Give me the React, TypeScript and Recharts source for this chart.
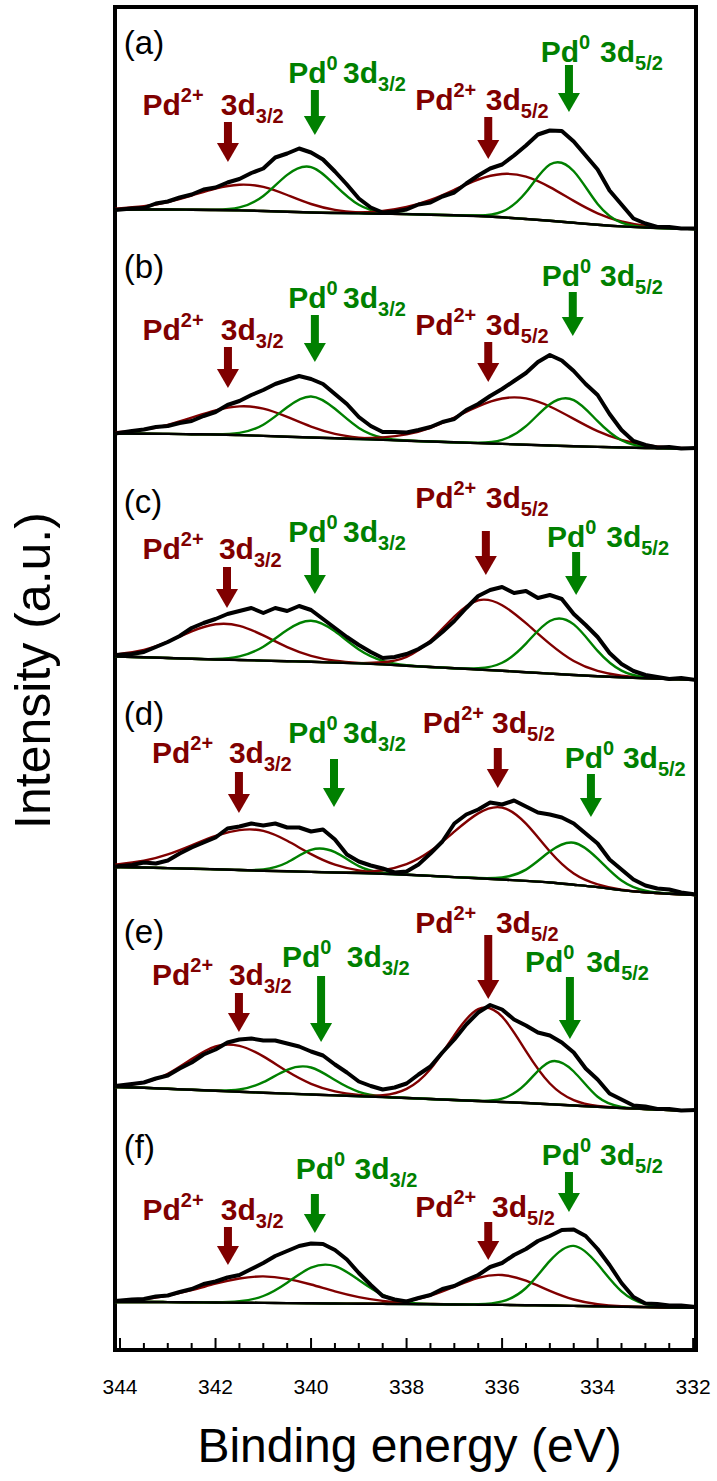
import React from "react";
import {
  LineChart,
  Line,
  XAxis,
  YAxis,
  ReferenceArea,
  ReferenceDot,
  ReferenceLine,
} from "recharts";

const FONT = '"Liberation Sans", Arial, Helvetica, sans-serif';
const BROWN = "#800000";
const GREEN = "#008000";

const WIDTH = 717;
const HEIGHT = 1481;
const PLOT_TOP = 7;
const PLOT_BOTTOM = 1350;
const PLOT_LEFT = 115;
const PLOT_RIGHT = 696;

// pixel row that each stacked spectrum counts up from (1 intensity unit = 1 px)
const PANEL_BASE = [230, 450.5, 671, 891.5, 1112, 1332.5];

const E_MIN = 331.94;
const E_MAX = 344.105;

const MAJOR_TICKS = [344, 342, 340, 338, 336, 334, 332];
const MINOR_TICKS = [
  343.5, 343, 342.5, 341.5, 341, 340.5, 339.5, 339, 338.5, 337.5, 337, 336.5,
  335.5, 335, 334.5, 333.5, 333, 332.5,
];

// binding energy grids (eV): raw spectra on the fine one, fitted curves on the coarse one
const ENERGY_FINE = [
  344.1, 343.75, 343.5, 343.25, 343, 342.75, 342.5, 342.25, 342, 341.75, 341.5,
  341.25, 341, 340.75, 340.5, 340.25, 340, 339.75, 339.5, 339.25, 339, 338.75,
  338.5, 338.25, 338, 337.75, 337.5, 337.25, 337, 336.75, 336.5, 336.25, 336,
  335.75, 335.5, 335.25, 335, 334.75, 334.5, 334.25, 334, 333.75, 333.5, 333.25,
  333, 332.75, 332.5, 332.25, 331.94,
];
const ENERGY_COARSE = [
  344.1, 343.5, 343, 342.5, 342, 341.5, 341, 340.5, 340, 339.5, 339, 338.5, 338,
  337.5, 337, 336.5, 336, 335.5, 335, 334.5, 334, 333.5, 333, 332.5, 331.94,
];

// ---- (a) ----
const A_TOTAL = [
  20, 21.5, 22, 26.5, 28.5, 32.5, 35.5, 40.5, 42.5, 47.5, 51, 57, 61.5, 72.5,
  76.5, 81.5, 77.5, 70.5, 58.5, 45.5, 31.5, 22.5, 17.5, 18.5, 20.5, 25.5, 27.5,
  33.5, 37.5, 46.5, 54.5, 61.5, 65.5, 74.5, 84.5, 95.5, 99.5, 99, 88.5, 74.5,
  60.5, 39.5, 25.5, 11.5, 6.5, 3, 3, 1.5, 1.5,
];
const A_BG = [
  20.5, 20.5, 20.5, 20.3, 20, 19.6, 19, 18.3, 17.5, 17, 16.6, 16.2, 15.9, 15.3,
  14.7, 14, 12.7, 11, 9.2, 7.2, 5.2, 3.6, 2.5, 1.6, 1,
];
// fitted components, height above the background
const A_PD2_32 = [0.9, 3.2, 7.5, 14.2, 21.5, 25.7, 24.1, 16.7, 8.5, 3.1, 0.9, 0.2, 0, 0, 0, 0, 0, 0, 0, 0, 0, 0, 0, 0, 0];
const A_PD0_32 = [0, 0, 0, 0, 0.3, 3, 15, 36.8, 45.4, 27.9, 8.6, 1.3, 0.1, 0, 0, 0, 0, 0, 0, 0, 0, 0, 0, 0, 0];
const A_PD2_52 = [0, 0, 0, 0, 0, 0, 0, 0, 0, 0.2, 0.9, 2.8, 7.1, 14.7, 25.5, 36.5, 43.3, 42.4, 33.7, 21.9, 11.5, 4.9, 1.7, 0.5, 0.1];
const A_PD0_52 = [0, 0, 0, 0, 0, 0, 0, 0, 0, 0, 0, 0, 0, 0, 0, 0.5, 5.6, 26.7, 56.2, 51.6, 20.9, 3.7, 0.3, 0, 0];

// ---- (b) ----
const B_TOTAL = [
  17, 19.5, 21, 23.5, 24.5, 27.5, 29.5, 34.5, 38.5, 45.5, 49.5, 55.5, 60.5, 66.5,
  70.5, 74.5, 71.5, 66.5, 56.5, 46.5, 33.5, 24.5, 18.5, 18.5, 18, 20.5, 23.5,
  28.5, 31.5, 40.5, 46.5, 54.5, 61.5, 69.5, 77.5, 88.5, 95.5, 90, 79.5, 66.5,
  55.5, 36.5, 20.5, 9.5, 5.5, 3, 3.5, 2, 2.5,
];
const B_BG = [
  17, 16.8, 16.6, 16.3, 16, 15.4, 14.6, 13.8, 13, 12.2, 11.4, 10.6, 9.8, 9, 8.2,
  7.4, 6.6, 5.8, 5, 4.3, 3.6, 3, 2.5, 2.1, 1.8,
];
const B_PD2_32 = [1.2, 4.1, 9.1, 16.5, 24.1, 28.7, 27.3, 19.8, 10.9, 4.5, 1.5, 0.3, 0, 0, 0, 0, 0, 0, 0, 0, 0, 0, 0, 0, 0];
const B_PD0_32 = [0, 0, 0, 0, 0.2, 2.2, 11.2, 29.5, 41, 29.5, 11.2, 2.2, 0.2, 0, 0, 0, 0, 0, 0, 0, 0, 0, 0, 0, 0];
const B_PD2_52 = [0, 0, 0, 0, 0, 0, 0, 0, 0, 0.2, 0.8, 2.5, 6.3, 13.7, 24.8, 36.8, 45.4, 46.3, 39, 27.3, 15.7, 7.6, 3, 1, 0.2];
const B_PD0_52 = [0, 0, 0, 0, 0, 0, 0, 0, 0, 0, 0, 0, 0, 0, 0, 0.5, 4.1, 18.5, 41.3, 46.1, 25.7, 7.2, 1, 0.1, 0];

// ---- (c) ----
const C_TOTAL = [
  16, 17, 19, 24, 29, 35, 43, 48, 52, 57, 60, 63, 58, 63, 60, 65, 61, 52, 43, 34,
  26, 19, 13, 14, 17, 22, 29, 39, 50, 63, 75, 81, 84, 78, 80, 73, 76, 72, 57, 46,
  34, 18, 7, 0, -4, -6, -8, -7, -9,
];
const C_BG = [
  14.5, 13.8, 13, 12.2, 11.5, 11, 10.4, 9.8, 9.2, 8.4, 7.6, 6.6, 5.3, 4, 2.8,
  1.5, 0.2, -1.2, -2.6, -4, -5.2, -6.3, -7.2, -8, -8.8,
];
const C_PD2_32 = [1.9, 7.2, 16.3, 27.4, 35.2, 34.2, 25.2, 14.1, 6, 1.9, 0.5, 0.1, 0, 0, 0, 0, 0, 0, 0, 0, 0, 0, 0, 0, 0];
const C_PD0_32 = [0, 0, 0, 0, 0.5, 3.6, 13.9, 31.2, 41, 31.2, 13.9, 3.6, 0.5, 0, 0, 0, 0, 0, 0, 0, 0, 0, 0, 0, 0];
const C_PD2_52 = [0, 0, 0, 0, 0, 0, 0, 0, 0, 0, 0.3, 2.1, 8.9, 26.3, 51.7, 69.2, 65.6, 49, 29.7, 14, 5.3, 1.6, 0.4, 0.1, 0];
const C_PD0_52 = [0, 0, 0, 0, 0, 0, 0, 0, 0, 0, 0, 0, 0, 0, 0, 1.2, 8, 28.6, 52.6, 50.6, 25.3, 6.7, 0.9, 0.1, 0];

// ---- (d) ----
const D_TOTAL = [
  25, 26.5, 29, 28, 31, 38, 44, 49, 54, 63, 65, 68, 66, 68, 64, 64, 60, 62, 52,
  37, 30, 26, 23, 19, 20, 27, 38, 50, 68, 77, 82, 89, 87, 91, 85, 79, 77, 74, 68,
  58, 48, 32, 22, 12, 6, 3, 2, -1, -3,
];
const D_BG = [
  24.5, 24, 23.4, 22.8, 22.2, 21.5, 20.8, 20.2, 19.6, 19, 18.5, 17.8, 16.8, 15.6,
  14.4, 13.3, 12, 10.6, 9, 6.8, 4.4, 1.4, -0.8, -2.2, -3.5,
];
const D_PD2_32 = [2.3, 6.8, 13.7, 23.4, 33.4, 39.9, 39.8, 30.5, 17.8, 7.8, 2.6, 0.7, 0.1, 0, 0, 0, 0, 0, 0, 0, 0, 0, 0, 0, 0];
const D_PD0_32 = [0, 0, 0, 0, 0, 0, 1.3, 8.8, 22, 20.3, 6.9, 0.9, 0.1, 0, 0, 0, 0, 0, 0, 0, 0, 0, 0, 0, 0];
const D_PD2_52 = [0, 0, 0, 0, 0, 0, 0, 0, 0, 0, 0.9, 3.5, 10.5, 24.8, 45.4, 64.8, 71.9, 57.2, 31, 11.2, 2.8, 0.5, 0, 0, 0];
const D_PD0_52 = [0, 0, 0, 0, 0, 0, 0, 0, 0, 0, 0, 0, 0, 0, 0, 0.2, 2.1, 11.3, 31, 42, 28.5, 9.6, 1.6, 0.1, 0];

// ---- (e) ----
const E_TOTAL = [
  26, 28, 29.5, 33.5, 36.5, 43.5, 49.5, 57.5, 62.5, 69.5, 72.5, 73.5, 71.5, 71.5,
  68.5, 65.5, 60.5, 56.5, 47.5, 39.5, 30.5, 26, 22.5, 24.5, 28.5, 37.5, 45.5,
  59.5, 72.5, 87.5, 99.5, 107, 102.5, 92.5, 86.5, 79.5, 76.5, 69.5, 59.5, 43.5,
  32.5, 18.5, 12.5, 6.5, 5.5, 3, 3, 1.5, 2,
];
const E_BG = [
  25, 24.2, 23.2, 22.2, 21.2, 20.2, 19.3, 18.4, 17.5, 16.6, 15.8, 14.9, 14, 13,
  12, 11, 10, 9, 7.8, 6.5, 5.2, 4, 3, 2, 1.2,
];
const E_PD2_32 = [0.9, 5.3, 15, 30.8, 44.5, 45.9, 36.3, 22.3, 10.7, 4, 1.2, 0.3, 0, 0, 0, 0, 0, 0, 0, 0, 0, 0, 0, 0, 0];
const E_PD0_32 = [0, 0, 0, 0, 0.3, 2.3, 10.5, 23.8, 27, 15.3, 4.4, 0.6, 0.1, 0, 0, 0, 0, 0, 0, 0, 0, 0, 0, 0, 0];
const E_PD2_52 = [0, 0, 0, 0, 0, 0, 0, 0, 0, 0, 0.3, 1.8, 9.1, 30, 64.9, 91.9, 85.3, 51.9, 20.7, 5.4, 0.9, 0.1, 0, 0, 0];
const E_PD0_52 = [0, 0, 0, 0, 0, 0, 0, 0, 0, 0, 0, 0, 0, 0, 0, 0.2, 3.3, 19.4, 42.3, 34, 10, 1.1, 0, 0, 0];

// ---- (f) ----
const F_TOTAL = [
  31.5, 33, 33.5, 36, 37, 40.5, 43.5, 48.5, 51, 55, 57.5, 63.5, 69.5, 76.5, 81.5,
  86.5, 89, 88.5, 82.5, 73, 59.5, 47.5, 36.5, 33, 31, 34.5, 37.5, 43.5, 46.5,
  52.5, 57.5, 65.5, 69.5, 77.5, 83.5, 91.5, 96.5, 102.5, 103, 96.5, 83.5, 67.5,
  49.5, 35.5, 29, 28.5, 27, 27, 25.5,
];
const F_BG = [
  30.5, 30.5, 30.4, 30.2, 30, 29.8, 29.6, 29.4, 29.2, 29, 28.8, 28.6, 28.4, 28.2,
  28, 27.8, 27.6, 27.3, 27, 26.6, 26.2, 25.8, 25.4, 25, 24.6,
];
const F_PD2_32 = [1, 3, 6.6, 12.1, 18.8, 24.2, 26.5, 24.2, 18.8, 12.1, 6.6, 3, 1, 0.4, 0.1, 0, 0, 0, 0, 0, 0, 0, 0, 0, 0];
const F_PD0_32 = [0, 0, 0, 0, 0.2, 1.4, 6.9, 20.4, 35.6, 37.4, 23.7, 9, 2, 0.3, 0, 0, 0, 0, 0, 0, 0, 0, 0, 0, 0];
const F_PD2_52 = [0, 0, 0, 0, 0, 0, 0, 0, 0, 0, 0.2, 0.8, 3.1, 8.6, 17.8, 26.9, 29.9, 24.5, 14.6, 6.4, 2.1, 0.5, 0.1, 0, 0];
const F_PD0_52 = [0, 0, 0, 0, 0, 0, 0, 0, 0, 0, 0, 0, 0, 0, 0, 0.4, 3.5, 17.2, 44.6, 60, 42.2, 15.4, 3, 0.3, 0];

type Note = {
  charge: "2+" | "0";
  level: "3/2" | "5/2";
  pdE: number; // where "Pd" starts
  textV: number; // text baseline
  orbE: number; // where "3d" starts
  arrowE: number;
  arrowTop: number;
  arrowTip: number;
};

const note = (
  charge: "2+" | "0",
  level: "3/2" | "5/2",
  pdE: number,
  textV: number,
  orbE: number,
  arrowE: number,
  arrowTop: number,
  arrowTip: number
): Note => ({ charge, level, pdE, textV, orbE, arrowE, arrowTop, arrowTip });

const A_NOTES = [
  note("2+", "3/2", 343.53, 115, 341.89, 341.74, 108, 68),
  note("0", "3/2", 340.48, 147, 339.33, 339.92, 140, 95),
  note("2+", "5/2", 337.82, 120, 336.34, 336.29, 113, 71),
  note("0", "5/2", 335.19, 168, 333.95, 334.6, 165, 118),
];
const B_NOTES = [
  note("2+", "3/2", 343.53, 110.5, 341.89, 341.74, 103.5, 62.5),
  note("0", "3/2", 340.48, 142.5, 339.33, 339.92, 135.5, 88.5),
  note("2+", "5/2", 337.82, 115.5, 336.34, 336.29, 108.5, 68.5),
  note("0", "5/2", 335.17, 164.5, 333.95, 334.52, 158.5, 114.5),
];
const C_NOTES = [
  note("2+", "3/2", 343.53, 112, 341.93, 341.76, 104, 63),
  note("0", "3/2", 340.48, 129, 339.33, 339.92, 123, 77),
  note("2+", "5/2", 337.82, 163, 336.34, 336.34, 140, 96),
  note("0", "5/2", 335.06, 124, 333.82, 334.45, 119, 76),
];
const D_NOTES = [
  note("2+", "3/2", 343.33, 128.5, 341.72, 341.51, 119.5, 78.5),
  note("0", "3/2", 340.48, 148.5, 339.33, 339.52, 132.5, 84.5),
  note("2+", "5/2", 337.66, 158.5, 336.21, 336.09, 143.5, 103.5),
  note("0", "5/2", 334.69, 123.5, 333.47, 334.14, 117.5, 74.5),
];
const E_NOTES = [
  note("2+", "3/2", 343.33, 127, 341.72, 341.51, 119, 80),
  note("0", "3/2", 340.61, 145, 339.25, 339.79, 136, 70),
  note("2+", "5/2", 337.82, 179, 336.13, 336.29, 177, 113),
  note("0", "5/2", 335.52, 140, 334.24, 334.58, 135, 73),
];
const F_NOTES = [
  note("2+", "3/2", 343.53, 112.5, 341.89, 341.74, 105.5, 67.5),
  note("0", "3/2", 340.32, 153.5, 339.09, 339.92, 138.5, 99.5),
  note("2+", "5/2", 337.82, 115.5, 336.21, 336.29, 110.5, 72.5),
  note("0", "5/2", 335.17, 167.5, 333.95, 334.6, 160.5, 120.5),
];

const TAG_E = 343.92;

type Panel = {
  tag: string;
  tagV: number;
  total: number[];
  bg: number[];
  pd2_32: number[];
  pd0_32: number[];
  pd2_52: number[];
  pd0_52: number[];
  notes: Note[];
};

const PANELS: Panel[] = [
  { tag: "(a)", tagV: 176, total: A_TOTAL, bg: A_BG, pd2_32: A_PD2_32, pd0_32: A_PD0_32, pd2_52: A_PD2_52, pd0_52: A_PD0_52, notes: A_NOTES },
  { tag: "(b)", tagV: 172.5, total: B_TOTAL, bg: B_BG, pd2_32: B_PD2_32, pd0_32: B_PD0_32, pd2_52: B_PD2_52, pd0_52: B_PD0_52, notes: B_NOTES },
  { tag: "(c)", tagV: 158, total: C_TOTAL, bg: C_BG, pd2_32: C_PD2_32, pd0_32: C_PD0_32, pd2_52: C_PD2_52, pd0_52: C_PD0_52, notes: C_NOTES },
  { tag: "(d)", tagV: 166.5, total: D_TOTAL, bg: D_BG, pd2_32: D_PD2_32, pd0_32: D_PD0_32, pd2_52: D_PD2_52, pd0_52: D_PD0_52, notes: D_NOTES },
  { tag: "(e)", tagV: 169, total: E_TOTAL, bg: E_BG, pd2_32: E_PD2_32, pd0_32: E_PD0_32, pd2_52: E_PD2_52, pd0_52: E_PD0_52, notes: E_NOTES },
  { tag: "(f)", tagV: 174.5, total: F_TOTAL, bg: F_BG, pd2_32: F_PD2_32, pd0_32: F_PD0_32, pd2_52: F_PD2_52, pd0_52: F_PD0_52, notes: F_NOTES },
];

const HEAD_LEN = 19;
const HEAD_HALF = 11;

const ionShape = (charge: string, color: string) => (p: any) => (
  <text x={p.cx} y={p.cy} fill={color} fontFamily={FONT} fontWeight="bold" fontSize={30}>
    Pd
    <tspan dy={-13.5} fontSize={20}>
      {charge}
    </tspan>
  </text>
);

const orbitalShape = (level: string, color: string) => (p: any) => (
  <text x={p.cx} y={p.cy} fill={color} fontFamily={FONT} fontWeight="bold" fontSize={30}>
    3d
    <tspan dy={8} fontSize={20}>
      {level}
    </tspan>
  </text>
);

const headShape = (color: string) => (p: any) => (
  <polygon
    points={`${p.cx - HEAD_HALF},${p.cy - HEAD_LEN} ${p.cx + HEAD_HALF},${p.cy - HEAD_LEN} ${p.cx},${p.cy}`}
    fill={color}
  />
);

const tagShape = (tag: string) => (p: any) => (
  <text x={p.cx} y={p.cy} fill="#000" fontFamily={FONT} fontSize={33}>
    {tag}
  </text>
);

function panelElements(p: Panel, i: number) {
  const id = `p${i}`;
  const fitted = (h: number[]) => ENERGY_COARSE.map((e, k) => ({ e, v: p.bg[k] + h[k] }));
  const bgRows = ENERGY_COARSE.map((e, k) => ({ e, v: p.bg[k] }));
  const totalRows = ENERGY_FINE.map((e, k) => ({ e, v: p.total[k] }));

  const comps: [string, number[], string][] = [
    ["pd2_32", p.pd2_32, BROWN],
    ["pd0_32", p.pd0_32, GREEN],
    ["pd2_52", p.pd2_52, BROWN],
    ["pd0_52", p.pd0_52, GREEN],
  ];

  const out: React.ReactNode[] = comps.map(([name, h, color]) => (
    <Line
      key={`${id}-${name}`}
      yAxisId={id}
      data={fitted(h)}
      dataKey="v"
      type="natural"
      stroke={color}
      strokeWidth={2.4}
      dot={false}
      activeDot={false}
      isAnimationActive={false}
    />
  ));

  out.push(
    <Line
      key={`${id}-bg`}
      yAxisId={id}
      data={bgRows}
      dataKey="v"
      type="monotone"
      stroke="#000"
      strokeWidth={2.4}
      dot={false}
      activeDot={false}
      isAnimationActive={false}
    />,
    <Line
      key={`${id}-total`}
      yAxisId={id}
      data={totalRows}
      dataKey="v"
      type="linear"
      stroke="#000"
      strokeWidth={4}
      strokeLinejoin="round"
      dot={false}
      activeDot={false}
      isAnimationActive={false}
    />,
    <ReferenceDot
      key={`${id}-tag`}
      yAxisId={id}
      x={TAG_E}
      y={p.tagV}
      r={0}
      ifOverflow="visible"
      shape={tagShape(p.tag)}
    />
  );

  p.notes.forEach((n, k) => {
    const color = n.charge === "2+" ? BROWN : GREEN;
    out.push(
      <ReferenceDot
        key={`${id}-ion${k}`}
        yAxisId={id}
        x={n.pdE}
        y={n.textV}
        r={0}
        ifOverflow="visible"
        shape={ionShape(n.charge, color)}
      />,
      <ReferenceDot
        key={`${id}-orb${k}`}
        yAxisId={id}
        x={n.orbE}
        y={n.textV}
        r={0}
        ifOverflow="visible"
        shape={orbitalShape(n.level, color)}
      />,
      <ReferenceLine
        key={`${id}-shaft${k}`}
        yAxisId={id}
        segment={[
          { x: n.arrowE, y: n.arrowTop },
          { x: n.arrowE, y: n.arrowTip + HEAD_LEN - 1 },
        ]}
        stroke={color}
        strokeWidth={8}
        ifOverflow="visible"
      />,
      <ReferenceDot
        key={`${id}-head${k}`}
        yAxisId={id}
        x={n.arrowE}
        y={n.arrowTip}
        r={0}
        ifOverflow="visible"
        shape={headShape(color)}
      />
    );
  });

  return out;
}

const EnergyTick = (props: any) => {
  const { x, y, payload } = props;
  const major = MAJOR_TICKS.includes(payload.value);
  return (
    <g>
      <line x1={x} x2={x} y1={y} y2={y - (major ? 12 : 7)} stroke="#000" strokeWidth={2} />
      {major && (
        <text x={x} y={y + 44} textAnchor="middle" fontFamily={FONT} fontSize={21} fill="#000">
          {payload.value}
        </text>
      )}
    </g>
  );
};

// axis titles sit at fixed spots in the left and bottom gutters
const intensityTitle = () => {
  const cx = 50;
  const cy = (PLOT_TOP + PLOT_BOTTOM) / 2 - 8;
  return (
    <text x={cx} y={cy} transform={`rotate(-90 ${cx} ${cy})`} textAnchor="middle" fontFamily={FONT} fontSize={50} fill="#000">
      Intensity (a.u.)
    </text>
  );
};

const energyTitle = () => {
  const cx = (PLOT_LEFT + PLOT_RIGHT) / 2 + 4;
  const cy = PLOT_BOTTOM + 112;
  return (
    <text x={cx} y={cy} textAnchor="middle" fontFamily={FONT} fontSize={48} fill="#000">
      Binding energy (eV)
    </text>
  );
};

export default function App() {
  return (
    <div style={{ position: "absolute", left: 0, top: 0, width: WIDTH, height: HEIGHT, background: "#fff" }}>
      <LineChart
        width={WIDTH}
        height={HEIGHT}
        margin={{ top: PLOT_TOP, right: WIDTH - PLOT_RIGHT, bottom: 0, left: 0 }}
      >
        <XAxis
          type="number"
          dataKey="e"
          domain={[E_MIN, E_MAX]}
          allowDataOverflow
          reversed
          ticks={[...MAJOR_TICKS, ...MINOR_TICKS]}
          interval={0}
          tickSize={0}
          tickMargin={0}
          axisLine={false}
          tickLine={false}
          height={HEIGHT - PLOT_BOTTOM}
          tick={EnergyTick}
          label={energyTitle}
        />
        <YAxis
          yAxisId="title"
          width={PLOT_LEFT}
          domain={[0, 1]}
          tick={false}
          tickLine={false}
          axisLine={false}
          label={intensityTitle}
        />
        {PANEL_BASE.map((b, i) => (
          <YAxis
            key={`axis-${i}`}
            yAxisId={`p${i}`}
            type="number"
            hide
            allowDataOverflow
            domain={[b - PLOT_BOTTOM, b - PLOT_TOP]}
          />
        ))}
        {PANELS.map((p, i) => panelElements(p, i))}
        <ReferenceArea
          yAxisId="p0"
          x1={E_MIN}
          x2={E_MAX}
          y1={PANEL_BASE[0] - PLOT_BOTTOM}
          y2={PANEL_BASE[0] - PLOT_TOP}
          fill="none"
          stroke="#000"
          strokeWidth={4}
          ifOverflow="visible"
        />
      </LineChart>
    </div>
  );
}
